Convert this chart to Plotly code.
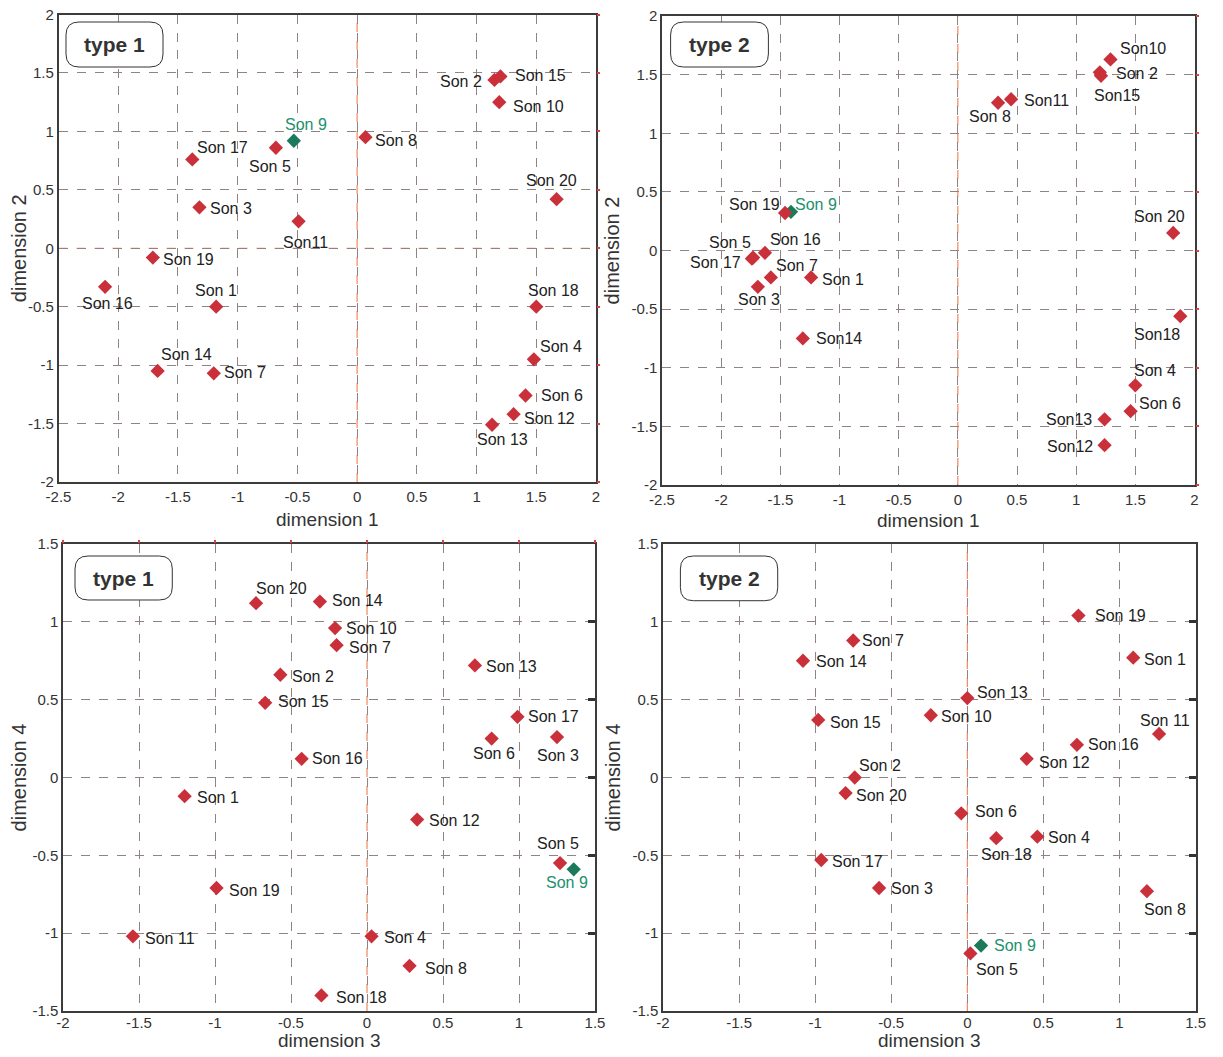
import plotly.graph_objects as go

# page is 1223x1057; the html body has an 8 px margin, so the figure is drawn 8 px in
PAGE_W, PAGE_H = 1223, 1057
PAD = 8
W, H = PAGE_W - 2 * PAD, PAGE_H - 2 * PAD

# ---------------- data ----------------
label_p1 = ["Son 1", "Son 2", "Son 3", "Son 4", "Son 5", "Son 6", "Son 7", "Son 8", "Son 9", "Son 10",
            "Son11", "Son 12", "Son 13", "Son 14", "Son 15", "Son 16", "Son 17", "Son 18", "Son 19", "Son 20"]
label_p2 = ["Son 1", "Son 2", "Son 3", "Son 4", "Son 5", "Son 6", "Son 7", "Son 8", "Son 9", "Son10",
            "Son11", "Son12", "Son13", "Son14", "Son15", "Son 16", "Son 17", "Son18", "Son 19", "Son 20"]
label_p3 = ["Son 1", "Son 2", "Son 3", "Son 4", "Son 5", "Son 6", "Son 7", "Son 8", "Son 9", "Son 10",
            "Son 11", "Son 12", "Son 13", "Son 14", "Son 15", "Son 16", "Son 17", "Son 18", "Son 19", "Son 20"]
label_p4 = label_p3

# type 1 : dimension 1 / dimension 2
t1_dim1 = [-1.18, 1.15, -1.32, 1.48, -0.68, 1.41, -1.20, 0.07, -0.53, 1.19,
           -0.49, 1.31, 1.13, -1.67, 1.20, -2.11, -1.38, 1.50, -1.71, 1.67]
t1_dim2 = [-0.50, 1.44, 0.35, -0.95, 0.86, -1.26, -1.07, 0.95, 0.92, 1.25,
           0.23, -1.42, -1.51, -1.05, 1.47, -0.33, 0.76, -0.50, -0.08, 0.42]
# type 2 : dimension 1 / dimension 2
t2_dim1 = [-1.24, 1.20, -1.69, 1.50, -1.73, 1.46, -1.58, 0.34, -1.41, 1.29,
           0.45, 1.24, 1.24, -1.31, 1.21, -1.63, -1.74, 1.88, -1.46, 1.82]
t2_dim2 = [-0.23, 1.52, -0.31, -1.15, -0.06, -1.37, -0.23, 1.26, 0.33, 1.63,
           1.29, -1.66, -1.44, -0.75, 1.49, -0.02, -0.07, -0.56, 0.32, 0.15]
# type 1 : dimension 3 / dimension 4
t1_dim3 = [-1.20, -0.57, 1.25, 0.03, 1.27, 0.82, -0.20, 0.28, 1.36, -0.21,
           -1.54, 0.33, 0.71, -0.31, -0.67, -0.43, 0.99, -0.30, -0.99, -0.73]
t1_dim4 = [-0.12, 0.66, 0.26, -1.02, -0.55, 0.25, 0.85, -1.21, -0.59, 0.96,
           -1.02, -0.27, 0.72, 1.13, 0.48, 0.12, 0.39, -1.40, -0.71, 1.12]
# type 2 : dimension 3 / dimension 4
t2_dim3 = [1.09, -0.74, -0.58, 0.46, 0.02, -0.04, -0.75, 1.18, 0.09, -0.24,
           1.26, 0.39, 0.00, -1.08, -0.98, 0.72, -0.96, 0.19, 0.73, -0.80]
t2_dim4 = [0.77, 0.00, -0.71, -0.38, -1.13, -0.23, 0.88, -0.73, -1.08, 0.40,
           0.28, 0.12, 0.51, 0.75, 0.37, 0.21, -0.53, -0.39, 1.04, -0.10]

highlight = "Son 9"

# tick values / labels
ticks_d1 = [-2.5, -2, -1.5, -1, -0.5, 0, 0.5, 1, 1.5, 2]
ticks_d1_text = ["-2.5", "-2", "-1.5", "-1", "-0.5", "0", "0.5", "1", "1.5", "2"]
ticks_d2 = [-2, -1.5, -1, -0.5, 0, 0.5, 1, 1.5, 2]
ticks_d2_text = ["-2", "-1.5", "-1", "-0.5", "0", "0.5", "1", "1.5", "2"]
ticks_d3 = [-2, -1.5, -1, -0.5, 0, 0.5, 1, 1.5]
ticks_d3_text = ["-2", "-1.5", "-1", "-0.5", "0", "0.5", "1", "1.5"]
ticks_d4 = [-1.5, -1, -0.5, 0, 0.5, 1, 1.5]
ticks_d4_text = ["-1.5", "-1", "-0.5", "0", "0.5", "1", "1.5"]

# ---------------- styling (label offsets in px: right, down) ----------------
off_p1 = [(0, -16), (-33, 2), (32, 1), (27, -13), (-6, 19), (36, 0), (31, -1), (31, 3), (12, -16), (39, 4),
          (7, 21), (36, 4), (10, 15), (29, -16), (40, -1), (2, 17), (30, -12), (17, -16), (36, 2), (-5, -19)]
off_p2 = [(32, 2), (37, 1), (1, 13), (20, -15), (-23, -15), (29, -8), (26, -12), (-8, 14), (25, -7), (33, -11),
          (35, 1), (-35, 1), (-36, 0), (36, 0), (16, 20), (31, -13), (-36, 4), (-23, 18), (-31, -8), (-14, -16)]
off_p3 = [(33, 1), (33, 2), (1, 18), (33, 1), (-2, -20), (2, 15), (33, 2), (36, 3), (-7, 13), (36, 0),
          (37, 2), (37, 1), (37, 1), (38, -1), (38, -1), (36, 0), (36, 0), (40, 2), (38, 2), (25, -15)]
off_p4 = [(32, 2), (25, -12), (33, 0), (32, 1), (27, 16), (35, -2), (30, 0), (18, 18), (34, 0), (36, 1),
          (6, -13), (38, 4), (35, -6), (38, 1), (37, 3), (37, 0), (36, 1), (10, 16), (42, 0), (36, 2)]

RED = "#c9303a"
GREEN = "#1b7a5c"
GREEN_TXT = "#21906e"
GRID = "#8f8383"
ZERO = "#f3875c"
FRAME = "#3c3c3c"
FONT = "Liberation Sans, Arial, sans-serif"

# panel boxes in page pixels: left, top, right, bottom
boxes = [(58.5, 14.5, 596, 482), (662, 16, 1194.5, 485), (63, 544, 595, 1011), (663, 544, 1195.6, 1011)]
type_boxes = [(66, 22, 163, 67), (670.6, 22, 768.4, 67), (75, 556, 172.3, 600), (680.4, 556, 777.7, 600.7)]
xtitle_y = [519, 520, 1040, 1040]
xtick_standoff = [0, 0, -3, -3]

panels = [
    dict(x=t1_dim1, y=t1_dim2, lab=label_p1, off=off_p1, xr=[-2.5, 2], yr=[-2, 2],
         xtv=ticks_d1, xtt=ticks_d1_text, ytv=ticks_d2, ytt=ticks_d2_text,
         xt="dimension 1", yt="dimension 2", tag="type 1"),
    dict(x=t2_dim1, y=t2_dim2, lab=label_p2, off=off_p2, xr=[-2.5, 2], yr=[-2, 2],
         xtv=ticks_d1, xtt=ticks_d1_text, ytv=ticks_d2, ytt=ticks_d2_text,
         xt="dimension 1", yt="dimension 2", tag="type 2"),
    dict(x=t1_dim3, y=t1_dim4, lab=label_p3, off=off_p3, xr=[-2, 1.5], yr=[-1.5, 1.5],
         xtv=ticks_d3, xtt=ticks_d3_text, ytv=ticks_d4, ytt=ticks_d4_text,
         xt="dimension 3", yt="dimension 4", tag="type 1"),
    dict(x=t2_dim3, y=t2_dim4, lab=label_p4, off=off_p4, xr=[-2, 1.5], yr=[-1.5, 1.5],
         xtv=ticks_d3, xtt=ticks_d3_text, ytv=ticks_d4, ytt=ticks_d4_text,
         xt="dimension 3", yt="dimension 4", tag="type 2"),
]

fig = go.Figure()
layout = dict(template="none", width=W, height=H, margin=dict(l=0, r=0, t=0, b=0, pad=0, autoexpand=False),
              paper_bgcolor="white", plot_bgcolor="white", showlegend=False,
              font=dict(family=FONT, color="#222"))
annotations = []
shapes = []


def px2paper(px, py):
    return (px - PAD) / W, 1 - (py - PAD) / H


for i, p in enumerate(panels):
    n = i + 1
    xa = "x" if n == 1 else f"x{n}"
    ya = "y" if n == 1 else f"y{n}"
    xkey = "xaxis" if n == 1 else f"xaxis{n}"
    ykey = "yaxis" if n == 1 else f"yaxis{n}"
    l, t, r, b = boxes[i]
    x0, y1 = px2paper(l, t)
    x1, y0 = px2paper(r, b)
    common = dict(showgrid=True, gridcolor=GRID, griddash="dash", gridwidth=1, zeroline=False,
                  showline=True, linecolor=FRAME, linewidth=1.5, mirror=True, ticks="",
                  automargin=False, tickmode="array", ticklabeloverflow="allow",
                  tickfont=dict(size=15, color="#333", family=FONT),
                  title_font=dict(size=20, color="#333", family=FONT))
    layout[xkey] = dict(common, domain=[x0, x1], range=p["xr"], anchor=ya,
                        tickvals=p["xtv"], ticktext=p["xtt"], ticklabelstandoff=xtick_standoff[i])
    layout[ykey] = dict(common, domain=[y0, y1], range=p["yr"], anchor=xa,
                        tickvals=p["ytv"], ticktext=p["ytt"],
                        title=dict(text=p["yt"], standoff=6))
    # x-axis title as an annotation (keeps it clear of the tick labels at the page bottom)
    tx, ty = px2paper((l + r) / 2, xtitle_y[i])
    annotations.append(dict(x=tx, y=ty, xref="paper", yref="paper", text=p["xt"], showarrow=False,
                            xanchor="center", yanchor="middle",
                            font=dict(size=19, color="#333", family=FONT)))

    # zero lines (orange dashed)
    shapes.append(dict(type="line", xref=f"{xa} domain", yref=ya, x0=0, x1=1, y0=0, y1=0,
                       line=dict(color=ZERO, width=1.2, dash="dash"), layer="below"))
    shapes.append(dict(type="line", xref=xa, yref=f"{ya} domain", x0=0, x1=0, y0=0, y1=1,
                       line=dict(color=ZERO, width=1.2, dash="dash"), layer="below"))

    colors = [GREEN if s.replace(" ", "") == highlight.replace(" ", "") else RED for s in p["lab"]]
    fig.add_trace(go.Scatter(x=p["x"], y=p["y"], mode="markers", xaxis=xa, yaxis=ya,
                             marker=dict(symbol="diamond", size=11, color=colors,
                                         line=dict(width=0)),
                             hoverinfo="text", text=p["lab"]))
    for xv, yv, lab, (dx, dy) in zip(p["x"], p["y"], p["lab"], p["off"]):
        is_hl = lab.replace(" ", "") == highlight.replace(" ", "")
        annotations.append(dict(x=xv, y=yv, xref=xa, yref=ya, text=lab, showarrow=False,
                                xshift=dx, yshift=-dy, xanchor="center", yanchor="middle",
                                font=dict(size=16, color=GREEN_TXT if is_hl else "#222", family=FONT)))

    # "type" rounded box
    bl, bt, br, bb = type_boxes[i]
    rr = 13

    def P(px, py):
        a, c = px2paper(px, py)
        return f"{a:.5f},{c:.5f}"

    path = (f"M {P(bl + rr, bt)} L {P(br - rr, bt)} Q {P(br, bt)} {P(br, bt + rr)} "
            f"L {P(br, bb - rr)} Q {P(br, bb)} {P(br - rr, bb)} L {P(bl + rr, bb)} "
            f"Q {P(bl, bb)} {P(bl, bb - rr)} L {P(bl, bt + rr)} Q {P(bl, bt)} {P(bl + rr, bt)} Z")
    shapes.append(dict(type="path", xref="paper", yref="paper", path=path,
                       line=dict(color="#333", width=1), fillcolor="white", layer="above"))
    cx, cy = px2paper((bl + br) / 2, (bt + bb) / 2)
    annotations.append(dict(x=cx, y=cy, xref="paper", yref="paper", text=f"<b>{p['tag']}</b>",
                            showarrow=False, xanchor="center", yanchor="middle",
                            font=dict(size=21, color="#333", family=FONT)))

# edge tick decorations (right / top) via overlay axes
edge = [
    ("yaxis5", dict(overlaying="y", anchor="x", side="right", range=[-2, 2], tickvals=ticks_d2,
                    ticks="outside", ticklen=3, tickwidth=2, tickcolor="#e04040")),
    ("yaxis6", dict(overlaying="y2", anchor="x2", side="right", range=[-2, 2], tickvals=ticks_d2,
                    ticks="outside", ticklen=3, tickwidth=2, tickcolor="#e04040")),
    ("yaxis7", dict(overlaying="y3", anchor="x3", side="right", range=[-1.5, 1.5], tickvals=ticks_d4,
                    ticks="inside", ticklen=7, tickwidth=3, tickcolor="#333")),
    ("yaxis8", dict(overlaying="y4", anchor="x4", side="right", range=[-1.5, 1.5], tickvals=ticks_d4,
                    ticks="inside", ticklen=7, tickwidth=3, tickcolor="#333")),
    ("xaxis5", dict(overlaying="x3", anchor="y3", side="top", range=[-2, 1.5], tickvals=ticks_d3,
                    ticks="outside", ticklen=3, tickwidth=2, tickcolor="#e04040")),
]
for key, d in edge:
    d.update(showticklabels=False, showgrid=False, zeroline=False, showline=False,
             automargin=False, tickmode="array")
    layout[key] = d

fig.add_trace(go.Scatter(x=[], y=[], xaxis="x", yaxis="y5", hoverinfo="skip"))
fig.add_trace(go.Scatter(x=[], y=[], xaxis="x2", yaxis="y6", hoverinfo="skip"))
fig.add_trace(go.Scatter(x=[], y=[], xaxis="x3", yaxis="y7", hoverinfo="skip"))
fig.add_trace(go.Scatter(x=[], y=[], xaxis="x4", yaxis="y8", hoverinfo="skip"))
fig.add_trace(go.Scatter(x=[], y=[], xaxis="x5", yaxis="y3", hoverinfo="skip"))

layout["annotations"] = annotations
layout["shapes"] = shapes
fig.update_layout(**layout)
fig.write_html("out.html")
